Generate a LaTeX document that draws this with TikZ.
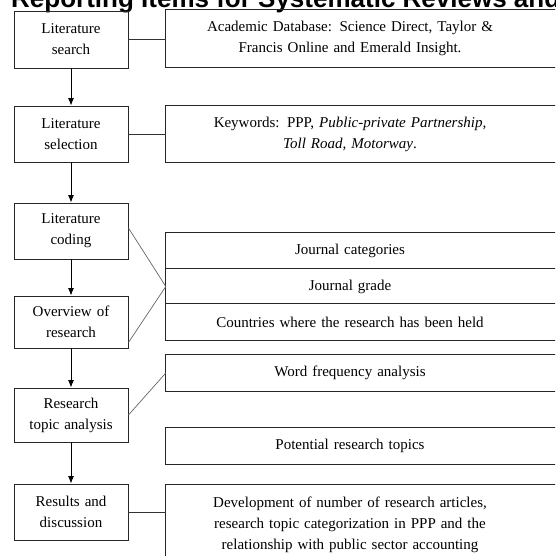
\documentclass[tikz,border=0pt]{standalone}
\usepackage{fontspec}
\setmainfont{Liberation Serif}
\newfontfamily\titlefont{Liberation Sans}
\usetikzlibrary{arrows.meta}
\tikzset{
  every node/.style={font=\fontsize{15}{21}\selectfont},
  leftbox/.style={draw=black!85, line width=0.9pt, minimum width=114pt, text width=106pt, align=center, inner sep=0pt},
  righttext/.style={text width=368pt, minimum width=368pt, align=center, inner sep=0pt},
  rightframe/.style={draw=black!85, line width=0.9pt},
  flow/.style={draw=black, line width=0.9pt, -{Latex[length=7.5pt,width=6pt]}},
  link/.style={draw=black!80, line width=0.8pt},
  diag/.style={draw=black!60, line width=0.7pt}
}
\begin{document}
\begin{tikzpicture}[x=1pt,y=-1pt]
\clip (0,0) rectangle (555,556);
\fill[white] (0,0) rectangle (555,556);
% title
\node[anchor=base west, inner sep=0pt, font=\titlefont\fontsize{26}{30}\selectfont\bfseries] (title) at (11,8) {Reporting Items for Systematic Reviews and};
% left boxes
\node[leftbox, minimum height=57pt] (L1) at (71,39.5) {Literature\\search};
\node[leftbox, minimum height=56pt] (L2) at (71,134) {Literature\\selection};
\node[leftbox, minimum height=56pt] (L3) at (71,231) {Literature\\coding};
\node[leftbox, minimum height=52pt] (L4) at (71,322) {Overview of\\research};
\node[leftbox, minimum height=54pt] (L5) at (71,415) {Research\\topic analysis};
\node[leftbox, minimum height=56pt] (L6) at (71,512) {Results and\\discussion};
% right texts
\node[righttext, minimum height=57pt] (R1) at (350,38.5) {Academic Database: Science Direct, Taylor \&\\Francis Online and Emerald Insight.};
\node[righttext, minimum height=56pt] (R2) at (350,134) {Keywords: PPP, \textit{Public-private Partnership,}\\\textit{Toll Road, Motorway}.};
\node[righttext, minimum height=36pt] (JC) at (350,251) {Journal categories};
\node[righttext, minimum height=35pt] (JG) at (350,286.5) {Journal grade};
\node[righttext, minimum height=36pt] (CO) at (350,322) {Countries where the research has been held};
\node[righttext, minimum height=36pt] (WF) at (350,373) {Word frequency analysis};
\node[righttext, minimum height=36pt] (PR) at (350,446) {Potential research topics};
\node[righttext, minimum height=80pt] (DV) at (350,525) {Development of number of research articles,\\research topic categorization in PPP and the\\relationship with public sector accounting};
% right frames (extend beyond the right edge)
\draw[rightframe] (R1.north west) rectangle ([xshift=40pt]R1.south east);
\draw[rightframe] (R2.north west) rectangle ([xshift=40pt]R2.south east);
\draw[rightframe] (JC.north west) rectangle ([xshift=40pt]CO.south east);
\draw[rightframe] (JG.north west) -- ([xshift=40pt]JG.north east);
\draw[rightframe] (CO.north west) -- ([xshift=40pt]CO.north east);
\draw[rightframe] (WF.north west) rectangle ([xshift=40pt]WF.south east);
\draw[rightframe] (PR.north west) rectangle ([xshift=40pt]PR.south east);
\draw[rightframe] (DV.north west) rectangle ([xshift=40pt]DV.south east);
% flow arrows
\draw[flow] (L1) -- (L2);
\draw[flow] (L2) -- (L3);
\draw[flow] (L3) -- (L4);
\draw[flow] (L4) -- (L5);
\draw[flow] (L5) -- (L6);
% links
\draw[link] (L1.east) -- (R1.west |- L1.east);
\draw[link] (L2.east) -- (R2.west);
\draw[diag] ([yshift=3pt]L3.east) -- (JG.west);
\draw[diag] ([yshift=6pt]L4.south east) -- (JG.west);
\draw[diag] (L5.east) -- (WF.west);
\draw[link] (L6.east) -- (DV.west |- L6.east);
\end{tikzpicture}
\end{document}
